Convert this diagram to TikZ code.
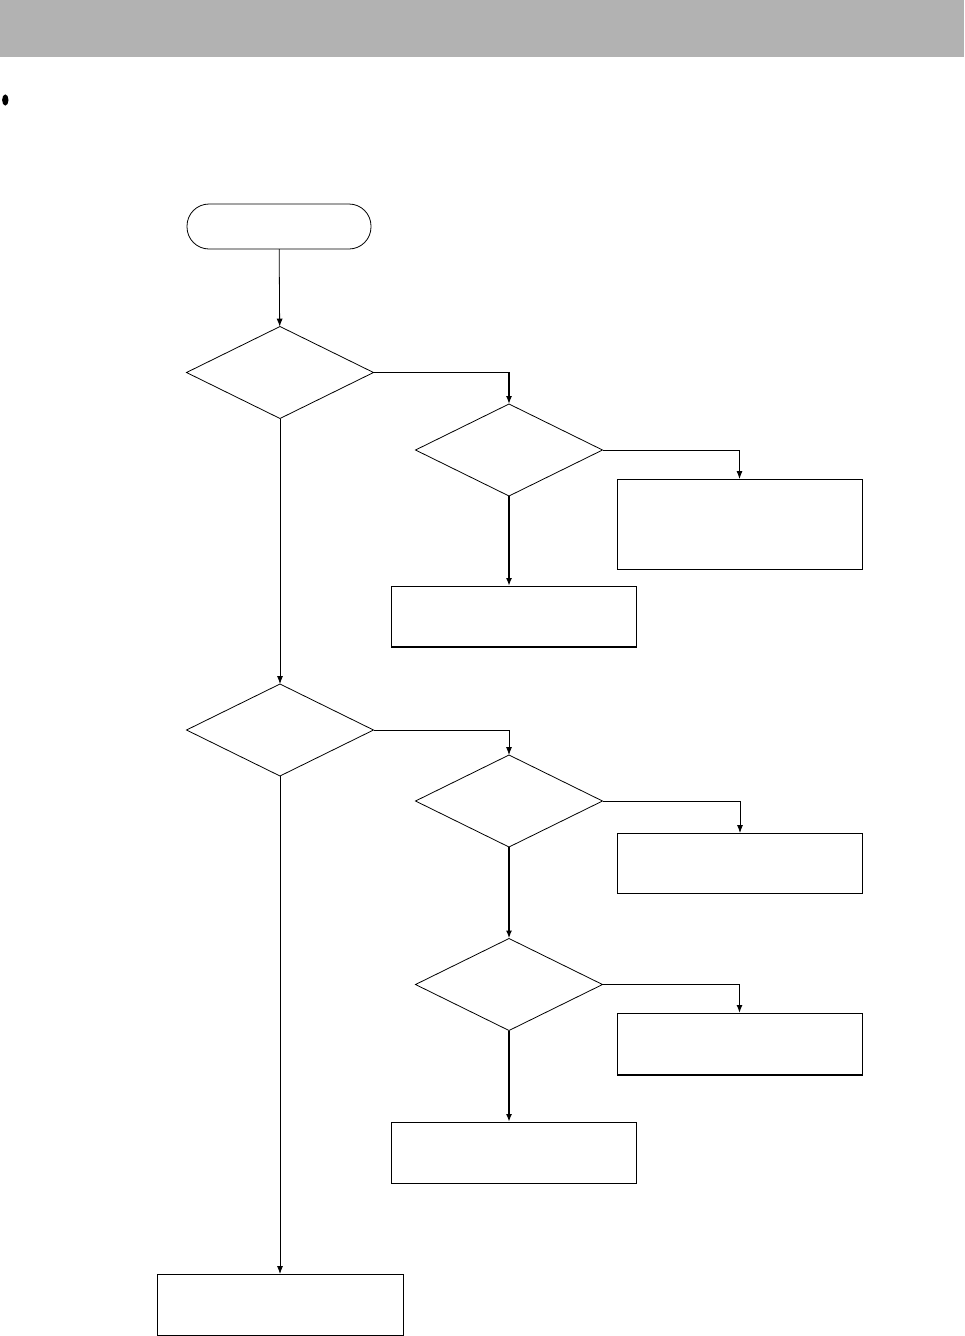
\documentclass[tikz,border=0pt]{standalone}
\usetikzlibrary{shapes.geometric,arrows.meta}
\definecolor{hdr}{HTML}{B2B2B2}
\tikzset{
  dec/.style={draw,shape=diamond,minimum width=187pt,minimum height=92pt,inner sep=0pt,outer sep=0pt,line width=0.8pt},
  procbox/.style={draw,rectangle,minimum width=245pt,inner sep=0pt,outer sep=0pt,line width=0.9pt},
  term/.style={draw,rectangle,rounded corners=22pt,minimum width=184pt,minimum height=45pt,inner sep=0pt,outer sep=0pt,line width=0.8pt},
  arr/.style={line width=0.8pt,-{Latex[length=8pt,width=6pt]}},
  tarr/.style={line width=1.6pt,-{Latex[length=8pt,width=6pt]}},
  thickedge/.style={line width=1.6pt},
}
\begin{document}
\begin{tikzpicture}[x=1pt,y=-1pt]
\useasboundingbox (0,0) rectangle (964,1336);
\fill[hdr] (0,0) rectangle (964,57);
\fill (5.3,100) ellipse [x radius=3.2pt, y radius=5.6pt];

\node[term] (start) at (279,226.5) {};
\node[dec] (d1) at (280,372.5) {};
\node[dec] (d2) at (509,450) {};
\node[procbox,minimum height=90pt] (b1) at (739.5,524) {};
\node[procbox,minimum height=61pt] (b2) at (513.5,616.5) {};
\node[dec] (d3) at (280,730) {};
\node[dec] (d4) at (509,801) {};
\node[procbox,minimum height=60pt] (b3) at (740,863) {};
\node[dec] (d5) at (509,984.5) {};
\node[procbox,minimum height=62pt] (b4) at (739.5,1044) {};
\node[procbox,minimum height=61pt] (b5) at (513.5,1152.5) {};
\node[procbox,minimum height=61pt,minimum width=246pt] (b6) at (280,1304.5) {};

\draw[thickedge] (b2.south west) -- (b2.south east);
\draw[thickedge] (b4.south west) -- (b4.south east);

\draw[arr] (start) -- (d1);
\draw[tarr,line width=1.3pt] (d1.east) -| (d2.north);
\draw[arr] (d2.east) -| (b1.north);
\draw[tarr] (d2.south) -- (d2.south |- b2.north);
\draw[arr] (d1.south) -- (d3.north);
\draw[arr] (d3.east) -| (d4.north);
\draw[arr] (d4.east) -| (b3.north);
\draw[tarr] (d4.south) -- (d5.north);
\draw[tarr,line width=1.3pt] (d5.east) -| (b4.north);
\draw[tarr] (d5.south) -- (d5.south |- b5.north);
\draw[arr] (d3.south) -- (b6.north);
\end{tikzpicture}
\end{document}
